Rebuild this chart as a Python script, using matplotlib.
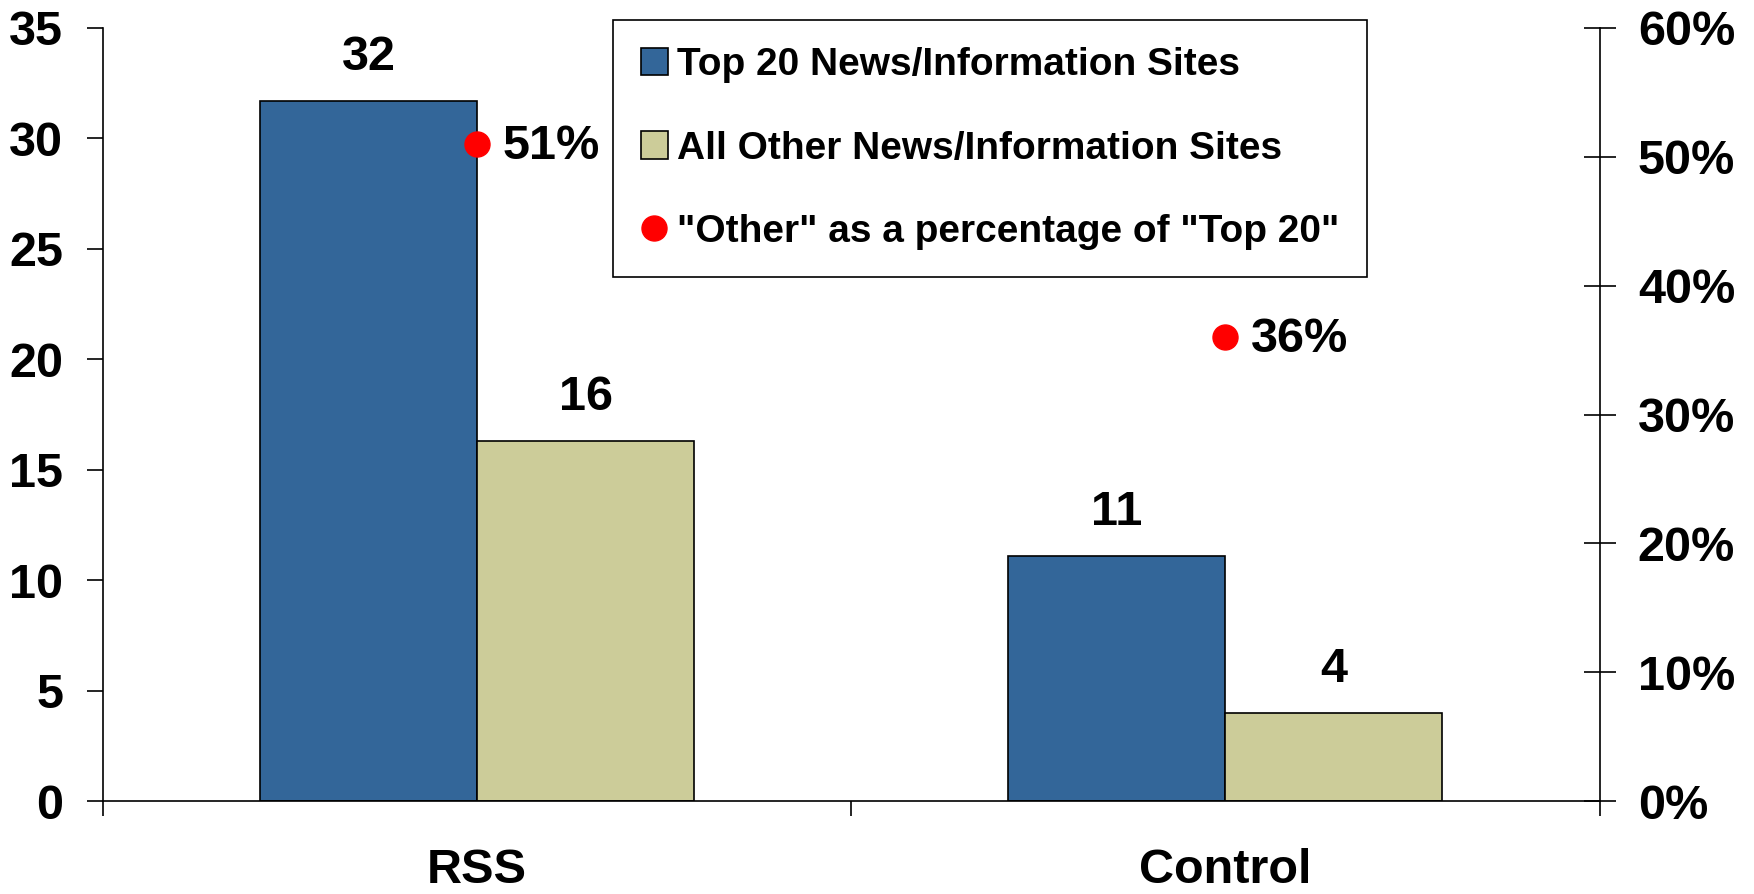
import matplotlib
matplotlib.use("Agg")
import matplotlib.pyplot as plt
from matplotlib.patches import Patch
from matplotlib.lines import Line2D
from matplotlib.ticker import FuncFormatter, FixedLocator
import numpy as np

plt.rcParams['font.family'] = ['Liberation Sans', 'DejaVu Sans']
plt.rcParams['font.weight'] = 'bold'

categories = ["RSS", "Control"]
top20 = [31.7, 11.1]
other = [16.3, 4.0]
top20_labels = ["32", "11"]
other_labels = ["16", "4"]
pct = [0.51, 0.36]
pct_labels = ["51%", "36%"]
series_names = ["Top 20 News/Information Sites", "All Other News/Information Sites",
                '"Other" as a percentage of "Top 20"']

blue = "#336699"
tan = "#CCCC99"
red = "#FF0000"
FS = 35

fig = plt.figure(figsize=(17.54, 8.94), dpi=100)
ax = fig.add_axes([0.0587, 0.104, 0.8533, 0.8647])
ax2 = ax.twinx()

x = np.arange(len(categories))
w = 0.29
b1 = ax.bar(x - w / 2, top20, w, color=blue, edgecolor="black", linewidth=1.2)
b2 = ax.bar(x + w / 2, other, w, color=tan, edgecolor="black", linewidth=1.2)

for bars, labels in ((b1, top20_labels), (b2, other_labels)):
    for rect, lab in zip(bars, labels):
        ax.annotate(lab, (rect.get_x() + rect.get_width() / 2, rect.get_height()),
                    xytext=(0, 31), textcoords="offset points", ha="center", va="center",
                    fontsize=FS, fontweight="bold")

ax2.plot(x, pct, linestyle="none", marker="o", markersize=18, color=red, zorder=5)
for xi, p, lab in zip(x, pct, pct_labels):
    ax2.annotate(lab, (xi, p), xytext=(18, -2), textcoords="offset points",
                 ha="left", va="center", fontsize=FS, fontweight="bold")

ax.set_xlim(-0.5, 1.5)
ax.set_ylim(0, 35)
ax2.set_ylim(0, 0.6)
ax.set_yticks(np.arange(0, 36, 5))
ax2.set_yticks(np.arange(0, 0.61, 0.1))
ax2.yaxis.set_major_formatter(FuncFormatter(lambda v, p: f"{v*100:.0f}%"))

ax.xaxis.set_major_locator(FixedLocator([-0.5, 0.5, 1.5]))
ax.xaxis.set_major_formatter(FuncFormatter(lambda v, p: ""))
ax.xaxis.set_minor_locator(FixedLocator(x))
ax.set_xticklabels(categories, minor=True)
ax.tick_params(axis="x", which="major", direction="out", length=11, width=1.2)
ax.tick_params(axis="x", which="minor", length=0, pad=34, labelsize=FS)
ax.tick_params(axis="y", direction="out", length=11.5, width=1.2, pad=17, labelsize=FS)
ax2.tick_params(axis="y", direction="inout", length=23, width=1.2, pad=16, labelsize=FS)

for a in (ax, ax2):
    a.spines["top"].set_visible(False)
    for s in a.spines.values():
        s.set_linewidth(1.2)
ax2.spines["left"].set_visible(False)
ax2.spines["bottom"].set_visible(False)
ax.spines["right"].set_visible(False)

handles = [Patch(facecolor=blue, edgecolor="black", linewidth=1.2),
           Patch(facecolor=tan, edgecolor="black", linewidth=1.2),
           Line2D([], [], linestyle="none", marker="o", markersize=18, color=red)]
leg = ax2.legend(handles, series_names, loc="upper left", bbox_to_anchor=(0.341, 1.01),
                 borderaxespad=0, frameon=True, fancybox=False,
                 edgecolor="black", framealpha=1, handlelength=0.7, handleheight=0.7,
                 handletextpad=0.25, labelspacing=1.21, borderpad=0.7,
                 prop={"weight": "bold", "size": 28})
leg.get_frame().set_linewidth(1.2)

fig.savefig("out.png", dpi=100)
